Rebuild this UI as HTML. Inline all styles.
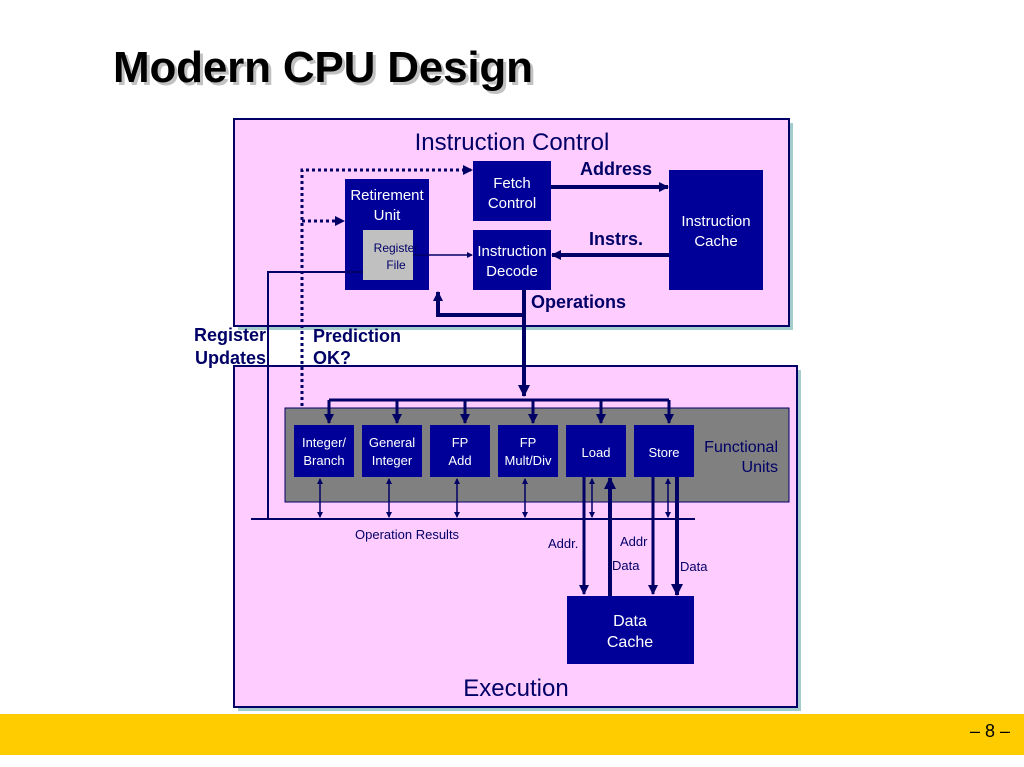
<!DOCTYPE html>
<html><head><meta charset="utf-8"><style>
html,body{margin:0;padding:0;background:#fff;width:1024px;height:767px;overflow:hidden}
svg{display:block;font-family:"Liberation Sans",sans-serif}
</style></head><body>
<svg width="1024" height="767" viewBox="0 0 1024 767" xmlns="http://www.w3.org/2000/svg">
<defs>
<marker id="a" markerWidth="10" markerHeight="10" refX="9" refY="5" orient="auto" markerUnits="userSpaceOnUse"><path d="M0,0 L10,5 L0,10 Z" fill="#000066"/></marker>
<marker id="b" markerWidth="12" markerHeight="12" refX="11" refY="6" orient="auto" markerUnits="userSpaceOnUse"><path d="M0,0 L12,6 L0,12 Z" fill="#000066"/></marker>
<marker id="s" markerWidth="6" markerHeight="6" refX="5" refY="3" orient="auto" markerUnits="userSpaceOnUse"><path d="M0,0 L6,3 L0,6 Z" fill="#000066"/></marker>
<marker id="sr" markerWidth="6" markerHeight="6" refX="1" refY="3" orient="auto" markerUnits="userSpaceOnUse"><path d="M6,0 L0,3 L6,6 Z" fill="#000066"/></marker>
</defs>
<text x="116" y="85" font-size="44" font-weight="bold" fill="#999" opacity="0.6" textLength="420">Modern CPU Design</text>
<text x="113" y="82" font-size="44" font-weight="bold" fill="#000" textLength="420">Modern CPU Design</text>

<rect x="238" y="123" width="555" height="207" fill="#6aa" opacity="0.6"/>
<rect x="234" y="119" width="555" height="207" fill="#ffccff" stroke="#000066" stroke-width="2"/>
<rect x="238" y="370" width="563" height="341" fill="#6aa" opacity="0.6"/>
<rect x="234" y="366" width="563" height="341" fill="#ffccff" stroke="#000066" stroke-width="2"/>
<text x="512" y="150" font-size="24" fill="#000066" text-anchor="middle">Instruction Control</text>
<text x="516" y="696" font-size="24" fill="#000066" text-anchor="middle">Execution</text>

<g fill="#000099" stroke="none">
<rect x="473" y="161" width="78" height="60"/>
<rect x="345" y="179" width="84" height="111"/>
<rect x="473" y="230" width="78" height="60"/>
<rect x="669" y="170" width="94" height="120"/>
</g>
<rect x="363" y="230" width="50" height="50" fill="#c0c0c0"/>
<g fill="#fff" font-size="15" text-anchor="middle">
<text x="512" y="188">Fetch</text><text x="512" y="208">Control</text>
<text x="387" y="200">Retirement</text><text x="387" y="220">Unit</text>
<text x="512" y="256">Instruction</text><text x="512" y="276">Decode</text>
<text x="716" y="226">Instruction</text><text x="716" y="246">Cache</text>
</g>
<text x="396" y="252" font-size="12" fill="#000066" text-anchor="middle">Register</text>
<text x="396" y="269" font-size="12" fill="#000066" text-anchor="middle">File</text>

<g stroke="#000066" fill="none">
<line x1="551" y1="187" x2="668" y2="187" stroke-width="4" marker-end="url(#a)"/>
<line x1="669" y1="255" x2="552" y2="255" stroke-width="4" marker-end="url(#a)"/>
<line x1="413" y1="255" x2="472" y2="255" stroke-width="1.5" marker-end="url(#s)"/>
<line x1="524" y1="290" x2="524" y2="396" stroke-width="4" marker-end="url(#b)"/>
<polyline points="524,315 438,315 438,292" stroke-width="4" marker-end="url(#a)"/>
<polyline points="302,412 302,170 472,170" stroke-width="3" stroke-dasharray="3,3" marker-end="url(#a)"/>
<line x1="302" y1="221" x2="344" y2="221" stroke-width="3" stroke-dasharray="3,3" marker-end="url(#a)"/>
<polyline points="268,519 268,272 363,272" stroke-width="2"/>
</g>
<text x="580" y="175" font-size="18" font-weight="bold" fill="#000066">Address</text>
<text x="589" y="245" font-size="18" font-weight="bold" fill="#000066">Instrs.</text>
<text x="531" y="308" font-size="18" font-weight="bold" fill="#000066">Operations</text>
<text x="266" y="341" font-size="18" font-weight="bold" fill="#000066" text-anchor="end">Register</text>
<text x="266" y="364" font-size="18" font-weight="bold" fill="#000066" text-anchor="end">Updates</text>
<text x="313" y="342" font-size="18" font-weight="bold" fill="#000066">Prediction</text>
<text x="313" y="364" font-size="18" font-weight="bold" fill="#000066">OK?</text>

<rect x="285" y="408" width="504" height="94" fill="#808080" stroke="#000066" stroke-width="1"/>
<g stroke="#000066" fill="none" stroke-width="3">
<line x1="329" y1="400" x2="669" y2="400"/>
<line x1="329" y1="400" x2="329" y2="423" marker-end="url(#a)"/>
<line x1="397" y1="400" x2="397" y2="423" marker-end="url(#a)"/>
<line x1="465" y1="400" x2="465" y2="423" marker-end="url(#a)"/>
<line x1="533" y1="400" x2="533" y2="423" marker-end="url(#a)"/>
<line x1="601" y1="400" x2="601" y2="423" marker-end="url(#a)"/>
<line x1="669" y1="400" x2="669" y2="423" marker-end="url(#a)"/>
</g>
<g fill="#000099">
<rect x="294" y="425" width="60" height="52"/><rect x="362" y="425" width="60" height="52"/>
<rect x="430" y="425" width="60" height="52"/><rect x="498" y="425" width="60" height="52"/>
<rect x="566" y="425" width="60" height="52"/><rect x="634" y="425" width="60" height="52"/>
<rect x="567" y="596" width="127" height="68"/>
</g>
<g fill="#fff" font-size="13" text-anchor="middle">
<text x="324" y="447">Integer/</text><text x="324" y="465">Branch</text>
<text x="392" y="447">General</text><text x="392" y="465">Integer</text>
<text x="460" y="447">FP</text><text x="460" y="465">Add</text>
<text x="528" y="447">FP</text><text x="528" y="465">Mult/Div</text>
<text x="596" y="457">Load</text><text x="664" y="457">Store</text>
<text x="630" y="626" font-size="16">Data</text><text x="630" y="647" font-size="16">Cache</text>
</g>
<text x="778" y="452" font-size="16" fill="#000066" text-anchor="end">Functional</text>
<text x="778" y="472" font-size="16" fill="#000066" text-anchor="end">Units</text>

<g stroke="#000066" fill="none">
<line x1="251" y1="519" x2="695" y2="519" stroke-width="2"/>
<g stroke-width="1.5">
<line x1="320" y1="479" x2="320" y2="517" marker-start="url(#sr)" marker-end="url(#s)"/>
<line x1="389" y1="479" x2="389" y2="517" marker-start="url(#sr)" marker-end="url(#s)"/>
<line x1="457" y1="479" x2="457" y2="517" marker-start="url(#sr)" marker-end="url(#s)"/>
<line x1="525" y1="479" x2="525" y2="517" marker-start="url(#sr)" marker-end="url(#s)"/>
<line x1="592" y1="479" x2="592" y2="517" marker-start="url(#sr)" marker-end="url(#s)"/>
<line x1="668" y1="479" x2="668" y2="517" marker-start="url(#sr)" marker-end="url(#s)"/>
</g>
<g stroke-width="3">
<line x1="584" y1="477" x2="584" y2="594" marker-end="url(#a)"/>
<line x1="653" y1="477" x2="653" y2="594" marker-end="url(#a)"/>
</g>
<g stroke-width="4">
<line x1="610" y1="596" x2="610" y2="478" marker-end="url(#b)"/>
<line x1="677" y1="477" x2="677" y2="595" marker-end="url(#b)"/>
</g>
</g>
<g fill="#000066" font-size="13">
<text x="355" y="539">Operation Results</text>
<text x="548" y="548">Addr.</text>
<text x="620" y="546">Addr</text>
<text x="612" y="570">Data</text>
<text x="680" y="571">Data</text>
</g>

<rect x="0" y="714" width="1024" height="41" fill="#ffcc00"/>
<text x="990" y="737" font-size="18" fill="#000" text-anchor="middle">– 8 –</text>
</svg>
</body></html>
